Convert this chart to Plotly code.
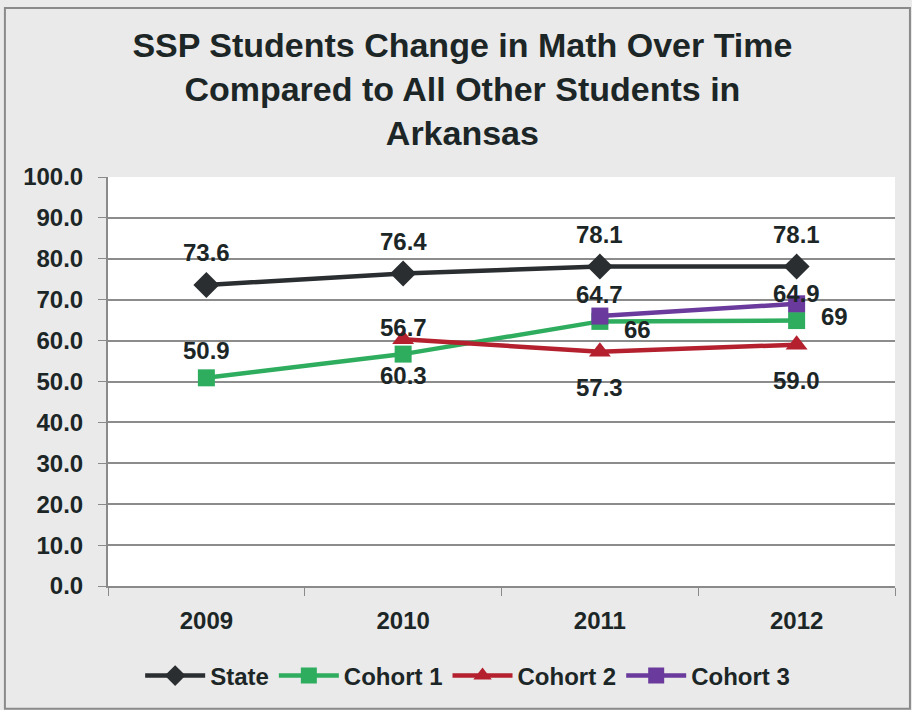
import plotly.graph_objects as go

years = ["2009", "2010", "2011", "2012"]
state = [73.6, 76.4, 78.1, 78.1]
cohort1 = [50.9, 56.7, 64.7, 64.9]
cohort2 = [None, 60.3, 57.3, 59.0]
cohort3 = [None, None, 66, 69]
y_ticks = [0, 10, 20, 30, 40, 50, 60, 70, 80, 90, 100]

# label texts as printed on the chart (as in the original)
c1_labels = ["50.9", "56.7", "64.7", "64.9"]
c2_labels = [None, "60.3", "57.3", "59.0"]
c3_labels = [None, None, "66", "69"]

FONT = "Liberation Sans, Arial, sans-serif"
TXT = "#1c2626"

fig = go.Figure()
fig.add_trace(go.Scatter(x=years, y=state, name="State", mode="lines+markers",
                         line=dict(color="#2a2e31", width=4.5),
                         marker=dict(symbol="diamond", size=20, color="#2a2e31")))
fig.add_trace(go.Scatter(x=years, y=cohort1, name="Cohort 1", mode="lines+markers",
                         line=dict(color="#2fad5e", width=4.5),
                         marker=dict(symbol="square", size=17, color="#2fad5e")))
fig.add_trace(go.Scatter(x=years, y=cohort2, name="Cohort 2", mode="lines+markers",
                         line=dict(color="#b5202f", width=4.5),
                         marker=dict(symbol="triangle-up", size=19, color="#b5202f")))
fig.add_trace(go.Scatter(x=years, y=cohort3, name="Cohort 3", mode="lines+markers",
                         line=dict(color="#6a3a9c", width=4.5),
                         marker=dict(symbol="square", size=17, color="#6a3a9c")))

ann = []
def lab(i, y, t, dx, dy):
    ann.append(dict(x=i, y=y, xref="x", yref="y", text=t, showarrow=False, xshift=dx, yshift=dy,
                    font=dict(family=FONT, size=24, color=TXT, weight="bold")))

for i, v in enumerate(state):
    lab(i, v, f"{v:.1f}", 0, 32)
for i, (v, t) in enumerate(zip(cohort1, c1_labels)):
    lab(i, v, t, 0, 27)
for i, (v, t) in enumerate(zip(cohort2, c2_labels)):
    if t:
        lab(i, v, t, 0, -36)
for i, (v, t) in enumerate(zip(cohort3, c3_labels)):
    if t:
        lab(i, v, t, 38, -13)

fig.update_layout(
    width=912, height=710,
    margin=dict(l=108, r=17, t=177, b=117),
    paper_bgcolor="#eaeaea", plot_bgcolor="#ffffff",
    font=dict(family=FONT, color=TXT),
    title=dict(text="SSP Students Change in Math Over Time<br>Compared to All Other Students in<br>Arkansas",
               x=0.507, xanchor="center", y=1 - 57 / 710, yanchor="middle",
               font=dict(family=FONT, size=34, color=TXT, weight="bold")),
    xaxis=dict(type="category", categoryorder="array", categoryarray=years, range=[-0.5, 3.5],
               showgrid=False, showline=True, linecolor="#8a8a8a", linewidth=2,
               ticks="outside", tickson="boundaries", ticklen=8, tickcolor="#8a8a8a",
               tickfont=dict(family=FONT, size=24, color=TXT, weight="bold"), ticklabelstandoff=12),
    yaxis=dict(range=[0, 100], tickvals=y_ticks, tickformat=".1f",
               showgrid=True, gridcolor="#8c8c8c", gridwidth=1.5, zeroline=False,
               showline=True, linecolor="#8a8a8a", linewidth=2,
               ticks="outside", ticklen=8, tickcolor="#8a8a8a",
               tickfont=dict(family=FONT, size=24, color=TXT, weight="bold"), ticklabelstandoff=10),
    legend=dict(orientation="h", x=0.457, xanchor="center", y=-0.165, yanchor="top",
                font=dict(family=FONT, size=24, color=TXT, weight="bold"), itemwidth=60,
                bgcolor="rgba(0,0,0,0)"),
    annotations=ann,
    shapes=[dict(type="rect", xref="paper", yref="paper",
                 x0=-0.131, x1=1.019, y0=-0.3, y1=1.413,
                 line=dict(color="#8a8a8a", width=2))],
)

fig.write_html("out.html", config={"displayModeBar": False},
               post_script="document.body.style.margin='0';document.body.style.overflow='hidden';")
